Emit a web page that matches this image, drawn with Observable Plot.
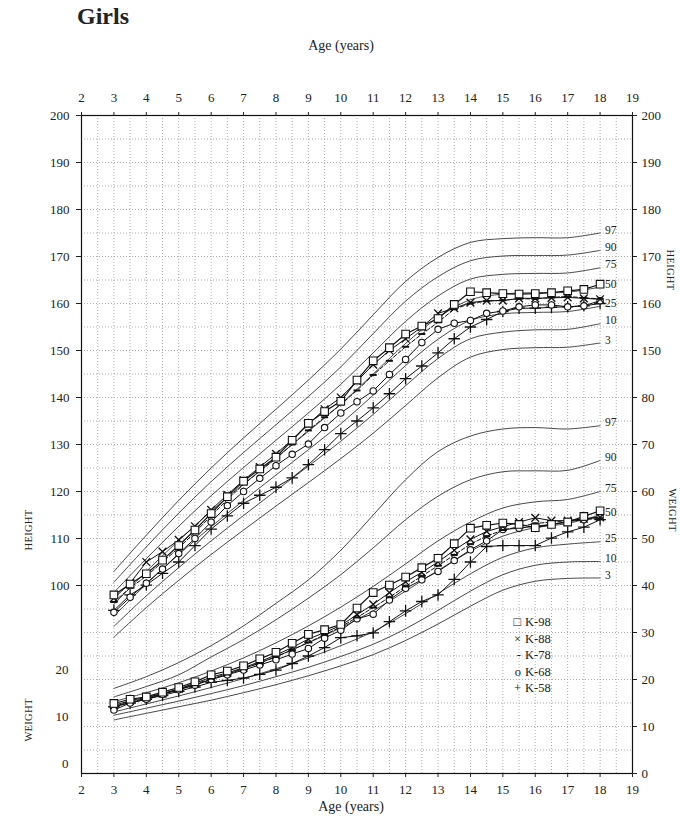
<!DOCTYPE html>
<html><head><meta charset="utf-8">
<script src="https://cdn.jsdelivr.net/npm/d3@7"></script>
<script src="https://cdn.jsdelivr.net/npm/@observablehq/plot@0.6"></script>
<style>
body{margin:0;background:#fff;font-family:"Liberation Serif","DejaVu Serif",serif;color:#222;}
#wrap{position:relative;width:681px;height:819px;overflow:hidden;}
#title{position:absolute;left:77px;top:3px;font-size:24px;font-weight:bold;}
#chart{position:absolute;left:0;top:36px;}
.lab{position:absolute;font-size:14px;width:120px;text-align:center;}
.rot{position:absolute;font-size:10.5px;letter-spacing:0.3px;white-space:nowrap;}
#legend{position:absolute;left:508px;top:614px;font-size:12.5px;line-height:16.5px;}
#legend span.s{display:inline-block;width:13px;text-align:right;margin-right:4px;}
</style></head><body>
<div id="wrap">
  <div id="title">Girls</div>
  <div id="chart"></div>
  <div class="lab" style="left:281px;top:38px;">Age (years)</div>
  <div class="lab" style="left:291px;top:799px;">Age (years)</div>
  <div class="rot" style="left:28px;top:530px;transform:translate(-50%,-50%) rotate(-90deg);">HEIGHT</div>
  <div class="rot" style="left:28px;top:720px;transform:translate(-50%,-50%) rotate(-90deg);">WEIGHT</div>
  <div class="rot" style="left:670px;top:270px;transform:translate(-50%,-50%) rotate(90deg);">HEIGHT</div>
  <div class="rot" style="left:672px;top:510px;transform:translate(-50%,-50%) rotate(90deg);">WEIGHT</div>
  <div id="legend"></div>
</div>
<script>
// ---- data ----
const pctAges = [3,4,5,6,7,8,9,10,11,12,13,14,15,16,17,18];
const pctNames = ["3","10","25","50","75","90","97"];
// height percentiles (cm)
const hP3  = [89.0,95.3,101.1,106.6,111.8,116.9,121.9,127.0,132.4,138.3,144.2,148.6,150.2,150.6,150.7,151.6];
const hP10 = [91.3,97.8,103.8,109.5,114.9,120.2,125.4,130.7,136.4,142.5,148.3,152.5,153.9,154.4,154.5,155.7];
const hP25 = [93.5,100.3,106.6,112.5,118.1,123.5,128.9,134.4,140.5,146.8,152.4,156.4,157.8,158.1,158.3,159.4];
const hP50 = [96.0,103.0,109.6,115.8,121.6,127.2,132.8,138.6,145.0,151.5,157.0,160.8,162.0,162.3,162.4,163.5];
const hP75 = [98.5,105.7,112.6,119.1,125.1,130.9,136.7,142.8,149.5,156.2,161.6,165.2,166.2,166.4,166.5,167.6];
const hP90 = [100.7,108.2,115.4,122.1,128.3,134.2,140.2,146.5,153.6,160.5,165.7,169.1,170.1,170.2,170.3,171.3];
const hP97 = [103.0,110.7,118.1,125.0,131.4,137.5,143.7,150.3,157.6,164.7,169.8,173.0,173.8,174.0,174.0,175.0];
// weight percentiles (kg)
const wP3  = [11.4,12.8,14.2,15.6,17.2,18.9,20.8,22.9,25.3,28.3,31.8,35.6,39.0,40.9,41.5,41.6];
const wP10 = [12.4,13.9,15.4,17.0,18.7,20.6,22.6,24.9,27.5,30.8,34.7,38.8,42.3,44.3,45.0,45.1];
const wP25 = [13.1,14.8,16.5,18.3,20.2,22.3,24.6,27.2,30.2,34.0,38.3,42.5,46.0,48.0,48.8,49.3];
const wP50 = [14.3,16.0,17.9,20.0,22.3,24.9,27.8,31.0,34.6,38.8,43.2,47.3,50.5,52.3,53.2,55.0];
const wP75 = [15.3,17.2,19.3,21.8,24.6,27.8,31.4,35.4,39.8,44.6,49.5,53.5,56.5,57.8,58.3,60.0];
const wP90 = [16.3,18.5,21.0,24.8,28.5,32.7,37.3,42.3,48.0,54.0,59.0,62.5,64.2,64.4,64.5,66.6];
const wP97 = [18.1,20.6,23.6,27.2,31.4,36.2,41.2,47.5,55.0,62.5,68.5,71.8,73.3,73.6,73.3,74.0];

const ages = [3,3.5,4,4.5,5,5.5,6,6.5,7,7.5,8,8.5,9,9.5,10,10.5,11,11.5,12,12.5,13,13.5,14,14.5,15,15.5,16,16.5,17,17.5,18];
const seriesNames = ["K-98","K-88","K-78","K-68","K-58"];
const hK98 = [98.0,100.3,102.5,105.4,108.5,111.8,115.3,118.9,122.2,124.8,127.3,130.9,134.5,137.0,139.2,143.7,147.8,150.6,153.5,155.2,156.8,159.8,162.5,162.3,162.1,162.0,162.1,162.3,162.7,163.0,164.1];
const hK88 = [97.3,100.5,105.0,107.2,109.7,112.6,116.1,119.3,122.4,125.2,128.0,131.0,134.3,137.5,140.0,143.5,147.0,150.0,152.5,155.0,157.9,159.0,160.2,160.6,160.6,161.1,161.1,161.2,161.3,161.1,160.9];
const hK78 = [96.5,99.5,102.0,105.0,108.0,111.3,114.8,118.3,121.5,124.3,127.0,130.0,133.0,135.8,138.5,141.5,144.8,147.8,150.8,153.5,156.0,158.8,160.0,160.5,160.7,161.0,161.0,161.3,161.5,161.2,161.0];
const hK68 = [94.3,97.5,100.5,103.5,106.8,110.0,113.5,117.0,120.0,122.8,125.5,127.9,130.1,133.6,136.7,139.1,141.4,144.9,148.1,151.7,154.5,155.8,156.4,157.9,158.4,159.3,159.7,159.7,159.3,159.5,160.6];
const hK58 = [94.7,98.0,100.1,102.6,105.0,108.5,112.0,114.8,117.5,119.2,120.9,122.9,125.7,128.9,132.3,135.0,137.8,140.8,144.0,146.7,149.5,152.5,155.0,156.6,158.3,159.0,159.0,159.2,159.3,159.5,160.0];
const wK98 = [14.9,15.8,16.3,17.3,18.3,19.5,21.0,21.8,22.9,24.4,25.8,27.7,29.6,30.6,31.7,35.2,38.5,40.1,41.8,43.8,45.8,48.9,52.2,52.8,53.3,53.0,52.3,53.0,53.5,54.7,55.9];
const wK88 = [14.5,15.5,16.2,17.0,18.0,19.2,20.5,21.4,22.5,23.8,25.2,26.8,28.6,30.0,31.5,33.8,36.0,38.5,40.8,42.8,45.0,47.5,49.8,51.5,52.5,53.5,54.4,53.8,53.8,54.2,54.5];
const wK78 = [14.3,15.2,16.0,16.9,17.9,19.0,20.2,21.2,22.3,23.5,24.8,26.3,27.9,29.5,31.2,33.2,35.3,37.5,39.8,42.0,44.2,46.5,48.8,50.5,51.8,52.5,53.2,53.5,53.8,54.0,54.3];
const wK68 = [13.5,15.0,15.8,16.8,17.8,18.8,20.0,21.0,22.0,23.1,24.2,25.4,26.6,28.8,30.5,32.9,33.9,36.9,39.4,41.2,43.0,45.3,47.6,49.5,51.9,52.2,52.6,53.0,53.6,54.0,54.7];
const wK58 = [14.2,15.0,15.8,16.6,17.5,18.4,19.4,19.8,20.3,21.1,22.0,23.4,25.0,26.8,28.9,29.3,29.9,32.3,34.6,36.6,38.0,41.3,45.0,48.3,48.5,48.5,48.5,50.1,51.4,52.4,54.0];

const xTicks = [2,3,4,5,6,7,8,9,10,11,12,13,14,15,16,17,18,19];
const leftHeightTicks = [100,110,120,130,140,150,160,170,180,190,200];
const rightHeightTicks = [150,160,170,180,190,200];
const weightTicksRight = [0,10,20,30,40,50,60,70,80];
const weightTicksLeft = [0,10,20];

// weight shares the vertical scale with height: kg + 60 sits on the cm grid
const W0 = 60;

// ---- tables ----
const hPct = [hP3,hP10,hP25,hP50,hP75,hP90,hP97];
const wPct = [wP3,wP10,wP25,wP50,wP75,wP90,wP97];
const pctRows = [];
pctNames.forEach((p,i) => {
  pctAges.forEach((a,j) => {
    pctRows.push({kind:"h", p, age:a, v:hPct[i][j]});
    pctRows.push({kind:"w", p, age:a, v:wPct[i][j] + W0});
  });
});
const pctEnds = pctRows.filter(d => d.age === 18);

const hSer = [hK98,hK88,hK78,hK68,hK58];
const wSer = [wK98,wK88,wK78,wK68,wK58];
const ser = {};
seriesNames.forEach((s,i) => {
  ser[s] = [];
  ages.forEach((a,j) => {
    ser[s].push({kind:"h", s, age:a, v:hSer[i][j]});
  });
  ages.forEach((a,j) => {
    ser[s].push({kind:"w", s, age:a, v:wSer[i][j] + W0});
  });
});

const dash = {draw(ctx, size){ const w = Math.sqrt(size) * 0.55; ctx.moveTo(-w,0); ctx.lineTo(w,0); }};

const symbolFor = {
  "K-98": {symbol:"square", r:4.3, fill:"white", strokeWidth:1.1},
  "K-88": {symbol:"times", r:3.6, fill:"none", strokeWidth:1.3},
  "K-78": {symbol:dash, r:3.6, fill:"none", strokeWidth:2},
  "K-68": {symbol:"circle", r:3.2, fill:"white", strokeWidth:1.1},
  "K-58": {symbol:"plus", r:3.8, fill:"none", strokeWidth:1.3}
};
const drawOrder = ["K-58","K-68","K-78","K-88","K-98"];

const marks = [
  Plot.gridX(d3.range(2, 19.01, 0.5), {stroke:"#9a9a9a", strokeOpacity:0.8, strokeDasharray:"1,2"}),
  Plot.gridY(d3.range(60, 200.1, 5), {stroke:"#9a9a9a", strokeOpacity:0.8, strokeDasharray:"1,2"}),
  Plot.line(pctRows, {x:"age", y:"v", z:d => d.kind + d.p, curve:"catmull-rom", stroke:"#333", strokeWidth:0.9}),
  Plot.text(pctEnds, {x:"age", y:"v", text:"p", dx:5, dy:-3, textAnchor:"start", fontSize:11.5, fill:"#222"})
];
drawOrder.forEach(s => {
  marks.push(Plot.line(ser[s], {x:"age", y:"v", z:"kind", stroke:"#111", strokeWidth: s === "K-98" ? 1.2 : 1,
    strokeDasharray: s === "K-78" ? "4,2" : null}));
});
drawOrder.forEach(s => {
  const o = symbolFor[s];
  marks.push(Plot.dot(ser[s], {x:"age", y:"v", symbol:o.symbol, r:o.r, fill:o.fill, stroke:"#111", strokeWidth:o.strokeWidth}));
});
marks.push(
  Plot.frame({stroke:"#111", strokeWidth:1.2}),
  Plot.axisX({anchor:"top", ticks:xTicks, tickSize:4, tickPadding:10, label:null, tickFormat:d => d}),
  Plot.axisX({anchor:"bottom", ticks:xTicks, tickSize:4, tickPadding:7, label:null, tickFormat:d => d}),
  Plot.axisY({anchor:"left", ticks:leftHeightTicks, tickSize:5, tickPadding:7, label:null, tickFormat:d => d}),
  Plot.axisY({anchor:"left", ticks:weightTicksLeft.map(w => w + W0), tickSize:0, tickPadding:13, dy:-10, label:null, tickFormat:d => d - W0}),
  Plot.axisY({anchor:"right", ticks:rightHeightTicks, tickSize:4, tickPadding:5, label:null, tickFormat:d => d}),
  Plot.axisY({anchor:"right", ticks:weightTicksRight.map(w => w + W0), tickSize:4, tickPadding:5, label:null, tickFormat:d => d - W0})
);

const chart = Plot.plot({
  width: 681,
  height: 783,
  marginLeft: 81,
  marginRight: 49,
  marginTop: 79,
  marginBottom: 46,
  x: {domain:[2,19]},
  y: {domain:[60,200]},
  style: {fontFamily:"'Liberation Serif', 'DejaVu Serif', serif", fontSize:"13px", color:"#222", background:"white"},
  marks
});
document.getElementById("chart").appendChild(chart);

// legend
const legendSym = {"K-98":"□","K-88":"×","K-78":"-","K-68":"o","K-58":"+"};
document.getElementById("legend").innerHTML = seriesNames.map(s =>
  `<div><span class="s">${legendSym[s]}</span>${s}</div>`).join("");
</script>
</body></html>
